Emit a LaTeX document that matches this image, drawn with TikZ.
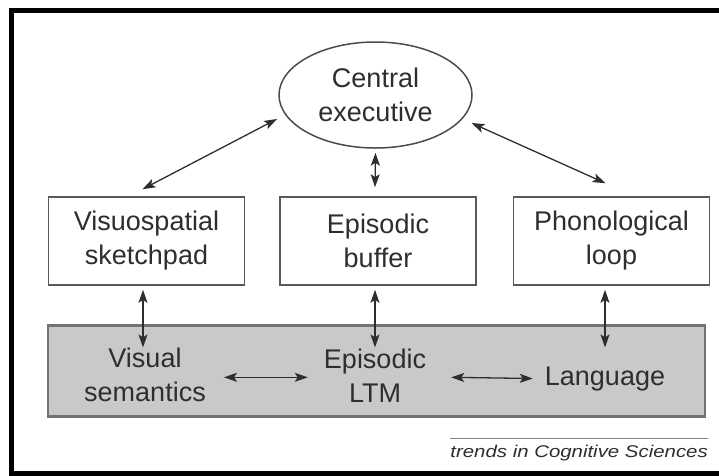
\documentclass[tikz,border=0pt]{standalone}
\usepackage{fontspec}
\setmainfont{Liberation Sans}
\newfontfamily\srcfont{Liberation Sans}[FakeStretch=1.2]
\usetikzlibrary{arrows.meta,calc,shapes.geometric}
\definecolor{inkc}{HTML}{2E2E2E}
\definecolor{bandfill}{HTML}{C9C9C9}
\begin{document}
\begin{tikzpicture}[x=1pt,y=-1pt,
  txt/.style={font=\fontsize{27}{34}\selectfont, text=inkc, align=center, inner sep=0pt},
  boxn/.style={draw=black!65, line width=1.6pt, minimum width=196pt, minimum height=88pt, txt},
  dbl/.style={{Stealth[length=13pt,width=9pt,inset=3pt]}-{Stealth[length=13pt,width=9pt,inset=3pt]}, line width=1.3pt, draw=inkc}]
\useasboundingbox (0,0) rectangle (719,475);
\fill[white] (0,0) rectangle (719,475);
\draw[line width=5pt] (11.8,10.5) rectangle (745,473);
% central executive
\node[ellipse, draw=black!70, line width=1.5pt, minimum width=193pt, minimum height=106pt, txt] (ce) at (375.5,95) {Central\\executive};
% slave systems
\node[boxn] (vs) at (146.5,241) {Visuospatial\\sketchpad};
\node[boxn] (eb) at (378,241) {Episodic\\buffer};
\node[boxn] (pl) at (611.5,241) {Phonological\\loop};
% long-term memory band
\node[fill=bandfill, draw=black!55, line width=2.2pt, minimum width=657pt, minimum height=91pt, inner sep=0pt] (ltm) at (376.5,371) {};
\node[txt] (vsem) at (145,375.3) {Visual\\semantics};
\node[txt] (elt) at (375,375.3) {Episodic\\LTM};
\node[txt, anchor=base] (lang) at (605,385) {Language};
% arrows from the executive
\draw[dbl] ($(vs.north)+(-4,-7)$) -- ($(ce.center)+(-98.5,24)$);
\draw[dbl] ($(ce.center)+(96,28)$) -- ($(pl.north)+(-6,-13)$);
\draw[dbl] ($(ce.south)+(0,4)$) -- ($(eb.north)+(-3,-9)$);
% arrows between buffers and LTM
\draw[dbl] ($(vsem.north |- vs.south)+(-2,4)$) -- ($(vsem.north |- ltm.north)+(-2,23)$);
\draw[dbl] ($(elt.north |- eb.south)+(0,4)$) -- ($(elt.north |- ltm.north)+(0,23)$);
\draw[dbl] ($(lang.north |- pl.south)+(0,4)$) -- ($(lang.north |- ltm.north)+(0,23)$);
% horizontal arrows
\draw[dbl] ($(vsem.east)+(18,2)$) -- ($(elt.west)+(-16,2)$);
\draw[dbl] ($(elt.east)+(25,2)$) -- ($(lang.west)+(-12,0)$);
% source
\node[anchor=base east, font=\srcfont\fontsize{17}{20}\selectfont\itshape, text=inkc, inner sep=0pt] (src) at (708,457) {trends in Cognitive Sciences};
\draw[black!50, line width=1pt] (450,438) -- (708,438);
\end{tikzpicture}
\end{document}
